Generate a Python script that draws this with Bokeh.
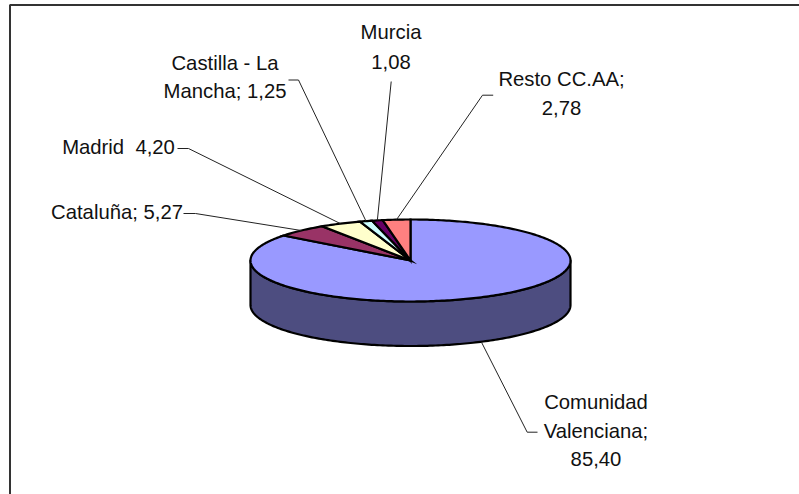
import numpy as np
from bokeh.plotting import figure
from bokeh.embed import file_html
from bokeh.resources import INLINE
from bokeh.core.properties import value

categories = ["Comunidad Valenciana", "Cataluña", "Madrid", "Castilla - La Mancha", "Murcia", "Resto CC.AA"]
values = [85.40, 5.27, 4.20, 1.25, 1.08, 2.78]
colors = ["#9999FF", "#993366", "#FFFFCC", "#CCFFFF", "#660066", "#FF8080"]
side_color = "#4D4D80"
label_lines = [["Comunidad", "Valenciana;", "85,40"], ["Cataluña; 5,27"], ["Madrid\u00a0\u00a04,20"],
               ["Castilla - La", "Mancha; 1,25"], ["Murcia", "1,08"], ["Resto CC.AA;", "2,78"]]
label_x = [595.5, 116.5, 118, 224.5, 390.5, 561]
label_y = [[401, 430, 458], [211], [146], [62, 90.5], [31, 61], [78, 107]]
elbows = [[(537, 431.7), (526.7, 431.7)], [(183, 213), (195, 213)], [(177, 148), (188, 148)],
          [(288, 79.5), (298, 79.5)], [(390.7, 81)], [(492.7, 94.7), (482, 94.7)]]

CX, CY, RX, RY, DEPTH = 410.0, 260.0, 160.0, 41.0, 44.5


def rim(a, dy=0.0):
    return CX + RX * np.sin(a), CY - RY * np.cos(a) + dy


p = figure(width=799, height=494, output_backend="svg", toolbar_location=None,
           x_range=(0, 799), y_range=(494, 0), x_axis_type="linear", y_axis_type="linear",
           min_border=0, outline_line_color=None, background_fill_color="white",
           border_fill_color="white", margin=(0, 0, 0, 0))
p.axis.visible = False
p.grid.visible = False
p.xaxis.visible = False
p.yaxis.visible = False

# chart frame (only the left and top edges fall inside the picture)
p.line([9.5, 9.5, 799], [494, 4.5, 4.5], line_color="#333333", line_width=2)

# side wall
t = np.radians(np.linspace(90, 270, 181))
xs, ys = rim(t)
xb, yb = rim(t, DEPTH)
p.patch(np.r_[xs, xb[::-1]], np.r_[ys, yb[::-1]], fill_color=side_color,
        line_color="black", line_width=2.2, line_join="round")

# top slices, clockwise from 12 o'clock
fr = np.cumsum([0] + values) / sum(values) * 2 * np.pi
for i, col in enumerate(colors):
    a = np.linspace(fr[i], fr[i + 1], max(3, int(np.degrees(fr[i + 1] - fr[i])) + 2))
    x, y = rim(a)
    p.patch(np.r_[CX, x], np.r_[CY, y], fill_color=col, line_color="black",
            line_width=2.2, line_join="miter")

# leader lines ending on each slice's mid angle
for i in range(len(values)):
    m = (fr[i] + fr[i + 1]) / 2
    ex, ey = rim(m, DEPTH if np.cos(m) < 0 else 0.0)
    lx = [pt[0] for pt in elbows[i]] + [ex]
    ly = [pt[1] for pt in elbows[i]] + [ey]
    p.line(lx, ly, line_color="#222222", line_width=1)

# labels
for lines, x0, ys0 in zip(label_lines, label_x, label_y):
    p.text([x0] * len(lines), ys0, text=lines, text_font=value("Liberation Sans"),
           text_font_size="20.3px", text_align="center", text_baseline="alphabetic",
           text_color="#111111")

open("out.html", "w").write(file_html(p, INLINE))
